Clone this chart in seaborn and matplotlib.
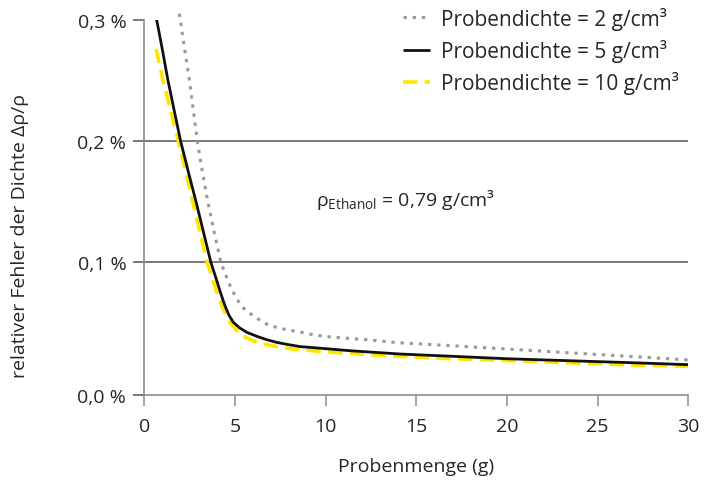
import matplotlib
matplotlib.use("Agg")
import matplotlib.pyplot as plt
import seaborn as sns
import pandas as pd

# Sample mass in g and relative density error in %
mass_2 = [1.93, 2.2, 2.48, 2.92, 3.2, 3.5, 3.85, 4.22, 4.5, 4.73, 5.0, 5.28, 5.6,
          6.01, 6.5, 6.93, 7.85, 8.49, 9.4, 10.42, 12.27, 14.0, 15.4, 20.0, 25.0,
          27.6, 30.0]
err_2 = [0.305, 0.278, 0.251, 0.200, 0.175, 0.150, 0.125, 0.100, 0.089, 0.0807,
         0.0725, 0.0656, 0.060, 0.056, 0.051, 0.0477, 0.0444, 0.0428, 0.040, 0.0382,
         0.0362, 0.0337, 0.0326, 0.0285, 0.0240, 0.0217, 0.0195]

mass_5 = [0.68, 1.0, 1.29, 1.65, 2.0, 2.42, 2.85, 3.26, 3.67, 3.95, 4.2, 4.45, 4.68,
          4.91, 5.25, 5.65, 6.2, 6.75, 7.3, 7.85, 8.59, 10.0, 11.35, 14.1, 17.0,
          20.0, 24.0, 27.35, 30.0]
err_5 = [0.300, 0.275, 0.251, 0.225, 0.200, 0.175, 0.150, 0.125, 0.100, 0.087,
         0.075, 0.064, 0.056, 0.0505, 0.046, 0.0423, 0.039, 0.0362, 0.034, 0.0324,
         0.0305, 0.0288, 0.0271, 0.0244, 0.0225, 0.0205, 0.0186, 0.0170, 0.0156]

mass_10 = [0.65, 1.0, 1.45, 1.88, 2.28, 2.67, 3.06, 3.46, 3.75, 4.0, 4.25, 4.5, 4.73,
           5.0, 5.28, 5.6, 6.01, 6.5, 7.12, 8.22, 10.0, 13.55, 17.0, 20.0, 24.0,
           27.5, 30.0]
err_10 = [0.276, 0.252, 0.225, 0.200, 0.175, 0.150, 0.125, 0.100, 0.087, 0.075,
          0.065, 0.057, 0.0505, 0.0455, 0.041, 0.038, 0.0352, 0.033, 0.0309, 0.0285,
          0.0262, 0.0228, 0.0205, 0.0190, 0.0168, 0.0150, 0.0143]

series_labels = ["Probendichte = 2 g/cm³", "Probendichte = 5 g/cm³", "Probendichte = 10 g/cm³"]
x_ticks = [0, 5, 10, 15, 20, 25, 30]
y_grid = [0.1, 0.2]
y_top = 0.3
y_bottom = -0.009
y_tick_values = [y_bottom, 0.1, 0.2, 0.3]
y_tick_labels = ["0,0 %", "0,1 %", "0,2 %", "0,3 %"]

sns.set_theme(style="white")
plt.rcParams["font.family"] = ["Open Sans", "DejaVu Sans"]
plt.rcParams["mathtext.fontset"] = "custom"
plt.rcParams["mathtext.rm"] = "Open Sans"
plt.rcParams["mathtext.it"] = "Open Sans"

TEXT = "#262626"
SPINE = "#8c8c8c"
GRID = "#555555"
YELLOW = "#ffe600"
FS = 14

fig = plt.figure(figsize=(7.18, 4.85), dpi=100)
ax = fig.add_axes([0.201, 0.1845, 0.7577, 0.7728])

ax.set_xlim(0, 30)
ax.set_ylim(y_bottom, y_top)

for v in y_grid:
    ax.axhline(v, color=GRID, lw=1.1, zorder=1)

df2 = pd.DataFrame({"m": mass_2, "e": err_2})
df5 = pd.DataFrame({"m": mass_5, "e": err_5})
df10 = pd.DataFrame({"m": mass_10, "e": err_10})

sns.lineplot(data=df2, x="m", y="e", ax=ax, color="#9a9a9a", lw=2.2,
             estimator=None, clip_on=False, zorder=3)
l2 = ax.lines[-1]
l2.set_dashes([1.1, 1.9])
sns.lineplot(data=df5, x="m", y="e", ax=ax, color="#111111", lw=2.0,
             estimator=None, zorder=4)
l5 = ax.lines[-1]
sns.lineplot(data=df10, x="m", y="e", ax=ax, color=YELLOW, lw=2.6,
             estimator=None, zorder=3)
l10 = ax.lines[-1]
l10.set_dashes([4.0, 2.0])
for ln in (l2, l5, l10):
    ln.set_solid_capstyle("butt")
    ln.set_dash_capstyle("butt")
    ln.set_solid_joinstyle("round")

ax.set_xticks(x_ticks)
ax.set_xticklabels([str(t) for t in x_ticks])
ax.set_yticks(y_tick_values)
ax.set_yticklabels(y_tick_labels)

for side in ("top", "right"):
    ax.spines[side].set_visible(False)
for side in ("left", "bottom"):
    ax.spines[side].set_color(SPINE)
    ax.spines[side].set_linewidth(1.2)

ax.tick_params(axis="x", direction="out", length=8, width=1.1, color=SPINE,
               labelsize=FS, labelcolor=TEXT, pad=8, bottom=True)
ax.tick_params(axis="y", direction="out", length=8, width=1.1, color=GRID,
               labelsize=FS, labelcolor=TEXT, pad=5, left=True)

ax.set_xlabel("Probenmenge (g)", fontsize=FS, color=TEXT, labelpad=16)
ax.set_ylabel("relativer Fehler der Dichte Δρ/ρ", fontsize=FS, color=TEXT)
ax.yaxis.set_label_coords(-0.212, 0.4256)

ax.text(9.47, 0.152, r"$\rho_{\mathrm{Ethanol}}$ = 0,79 g/cm³", fontsize=FS,
        color=TEXT, ha="left", va="center")

leg = ax.legend([l2, l5, l10], series_labels, loc="upper left",
                bbox_to_anchor=(0.46, 1.057), frameon=False, fontsize=15,
                handlelength=1.3, handletextpad=0.53, labelspacing=0.45,
                borderaxespad=0.0)
for t in leg.get_texts():
    t.set_color(TEXT)

fig.savefig("out.png", dpi=100)
